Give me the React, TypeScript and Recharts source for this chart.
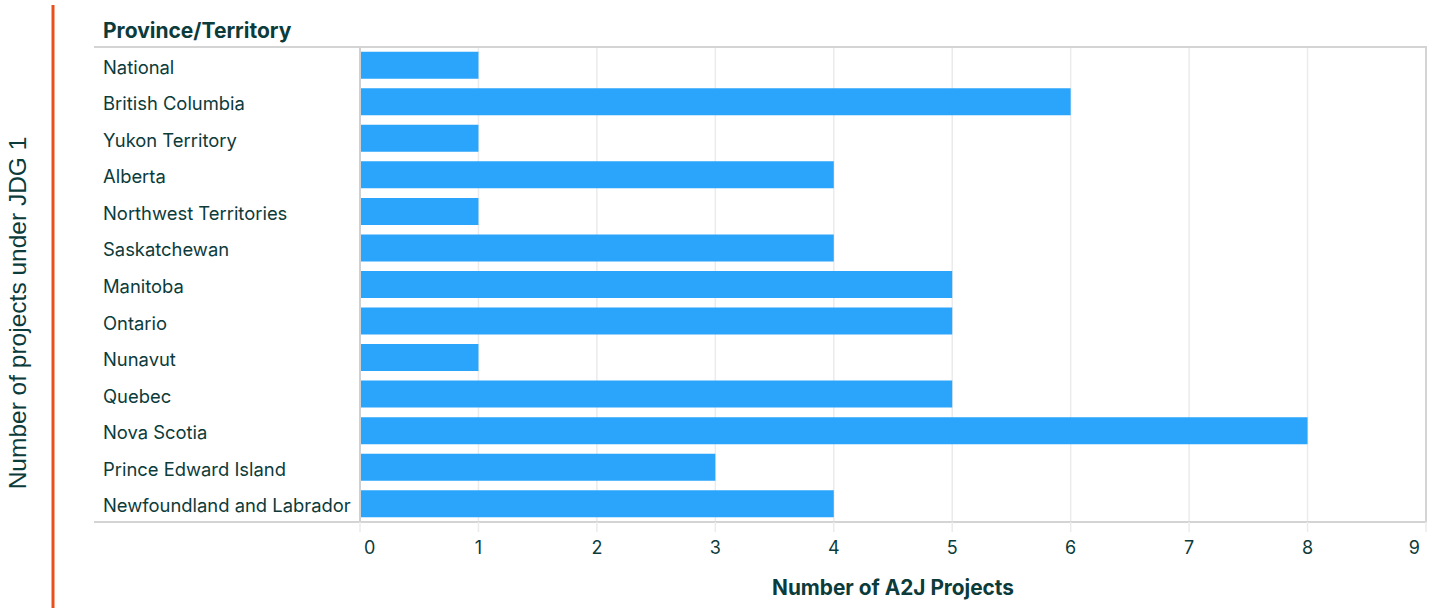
import { BarChart, Bar, XAxis, YAxis, CartesianGrid, usePlotArea } from 'recharts';

const provinces = [
  'National',
  'British Columbia',
  'Yukon Territory',
  'Alberta',
  'Northwest Territories',
  'Saskatchewan',
  'Manitoba',
  'Ontario',
  'Nunavut',
  'Quebec',
  'Nova Scotia',
  'Prince Edward Island',
  'Newfoundland and Labrador',
];
const projectCounts = [1, 6, 1, 4, 1, 4, 5, 5, 1, 5, 8, 3, 4];
const xTicks = [0, 1, 2, 3, 4, 5, 6, 7, 8, 9];

const data = provinces.map((name, i) => ({ name, projects: projectCounts[i] }));

const TEXT = '#0c3b3b';
const FONT = 'Inter, "Noto Sans", sans-serif';

function Frame() {
  const area = usePlotArea();
  if (!area) return null;
  const { x, y, width, height } = area;
  const left = 94;
  const right = x + width + 1;
  return (
    <g>
      <line x1={left} x2={right} y1={y} y2={y} stroke="#d4d4d4" strokeWidth={2} />
      <line x1={left} x2={right} y1={y + height} y2={y + height} stroke="#d4d4d4" strokeWidth={2} />
      <line x1={x + width} x2={x + width} y1={y} y2={y + height} stroke="#d4d4d4" strokeWidth={2} />
      <line x1={53} x2={53} y1={5} y2={608} stroke="#e8501c" strokeWidth={3} />
      <text x={103} y={y - 9} fill={TEXT} fontSize={21} fontWeight={700} fontFamily={FONT}>
        Province/Territory
      </text>
      <text
        x={0}
        y={0}
        transform={`translate(26, 313) rotate(-90)`}
        textAnchor="middle"
        fill={TEXT}
        fontSize={24.5}
        fontFamily='"Liberation Sans", Arial, sans-serif'
      >
        Number of projects under JDG 1
      </text>
      <text
        x={x + width / 2}
        y={y + height + 73}
        textAnchor="middle"
        fill={TEXT}
        fontSize={20.8}
        fontWeight={700}
        fontFamily={FONT}
      >
        Number of A2J Projects
      </text>
    </g>
  );
}

function CategoryTick(props: any) {
  const { y, payload } = props;
  return (
    <text x={103} y={y} dy={8.5} textAnchor="start" fill={TEXT} fontSize={18.4} fontFamily={FONT}>
      {payload.value}
    </text>
  );
}

function ValueTick(props: any) {
  const { x, y, payload, index } = props;
  let anchor = 'middle';
  let tx = x;
  if (index === 0) {
    anchor = 'start';
    tx = x + 4;
  } else if (index === xTicks.length - 1) {
    anchor = 'end';
    tx = x - 6;
  }
  return (
    <text x={tx} y={y + 20} textAnchor={anchor} fill={TEXT} fontSize={18} fontFamily={FONT}>
      {payload.value}
    </text>
  );
}

export default function App() {
  return (
    <div style={{ position: 'absolute', left: 0, top: 0, width: 1434, height: 608, background: '#fff' }}>
      <BarChart
        width={1434}
        height={608}
        data={data}
        layout="vertical"
        margin={{ top: 47, right: 8, bottom: 0, left: 0 }}
        barCategoryGap="13%"
      >
        <CartesianGrid horizontal={false} stroke="#ebebeb" strokeWidth={1.5} />
        <XAxis
          type="number"
          domain={[0, 9]}
          ticks={xTicks}
          interval={0}
          height={86}
          axisLine={false}
          tickLine={{ stroke: '#ebebeb', strokeWidth: 1.5 }}
          tickSize={10}
          tick={<ValueTick />}
        />
        <YAxis
          type="category"
          dataKey="name"
          width={360}
          axisLine={{ stroke: '#d0d0d0', strokeWidth: 2 }}
          tickLine={false}
          tick={<CategoryTick />}
          interval={0}
        />
        <Bar dataKey="projects" fill="#2aa5fb" isAnimationActive={false} />
        <Frame />
      </BarChart>
    </div>
  );
}
